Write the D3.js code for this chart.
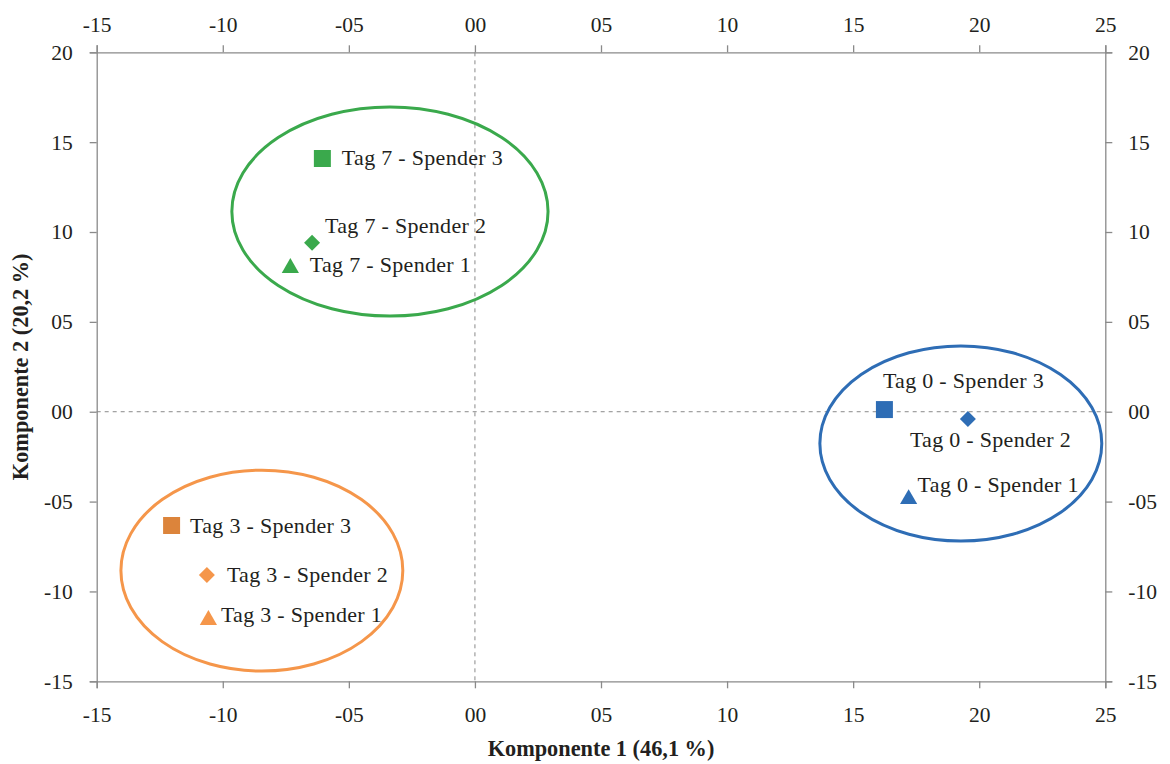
<!DOCTYPE html>
<html>
<head>
<meta charset="utf-8">
<script src="https://cdn.jsdelivr.net/npm/d3@7/dist/d3.min.js"></script>
<style>
  html, body { margin: 0; padding: 0; background: #fff; }
  svg text { font-family: "Liberation Serif", "DejaVu Serif", serif; fill: #231f20; }
</style>
</head>
<body>
<svg id="chart" width="1170" height="764"></svg>
<script>
// Principal component scores (component 1, component 2)
const samples = ["Tag 0 - Spender 3", "Tag 0 - Spender 2", "Tag 0 - Spender 1",
                 "Tag 7 - Spender 3", "Tag 7 - Spender 2", "Tag 7 - Spender 1",
                 "Tag 3 - Spender 3", "Tag 3 - Spender 2", "Tag 3 - Spender 1"];
const comp1 = [1.624, 1.955, 1.72, -0.605, -0.646, -0.732, -1.203, -1.063, -1.057];
const comp2 = [0.012, -0.041, -0.486, 1.409, 0.94, 0.80, -0.633, -0.909, -1.159];
const day   = ["Tag 0", "Tag 0", "Tag 0", "Tag 7", "Tag 7", "Tag 7", "Tag 3", "Tag 3", "Tag 3"];
const donor = [3, 2, 1, 3, 2, 1, 3, 2, 1];

// Group ellipses: centre and radii in component units
const groups   = ["Tag 0", "Tag 7", "Tag 3"];
const groupCx  = [1.927, -0.337, -0.845];
const groupCy  = [-0.177, 1.114, -0.884];
const groupRx  = [0.559, 0.627, 0.559];
const groupRy  = [0.543, 0.582, 0.559];

// Axis ticks
const xTicks = [-1.5, -1.0, -0.5, 0, 0.5, 1.0, 1.5, 2.0, 2.5];
const xTickLabels = ["-15", "-10", "-05", "00", "05", "10", "15", "20", "25"];
const yTicks = [-1.5, -1.0, -0.5, 0, 0.5, 1.0, 1.5, 2.0];
const yTickLabels = ["-15", "-10", "-05", "00", "05", "10", "15", "20"];

const xTitle = "Komponente 1 (46,1 %)";
const yTitle = "Komponente 2 (20,2 %)";

// ---- styling / layout ----
const groupColor = { "Tag 0": "#2e6db5", "Tag 7": "#3aa94c", "Tag 3": "#f5964a" };
const markerColor = (d) => (d.day === "Tag 3" && d.donor === 3) ? "#dc843b" : groupColor[d.day];
// label offsets (px) from the marker centre to the start of the text baseline
const labelOffset = [[-1.5, -22], [-58, 28], [9, -7],
                     [19.5, 6.5], [13, -10], [19.5, 4],
                     [18.5, 7.5], [20, 7], [12.5, 2]];

const svg = d3.select("#chart");
const plotLeft = 96.7, plotRight = 1105.3, plotTop = 52.3, plotBottom = 681.3;

const x = d3.scaleLinear().domain([-1.5, 2.5]).range([plotLeft, plotRight]);
const y = d3.scaleLinear().domain([-1.5, 2.0]).range([plotBottom, plotTop]);

const axisColor = "#8a8a8a";
const fmt = (ticks, labels) => (v) => labels[ticks.indexOf(v)];

function styleAxis(g) {
  g.selectAll("path.domain").attr("stroke", axisColor).attr("stroke-width", 1.3);
  g.selectAll(".tick line").attr("stroke", axisColor).attr("stroke-width", 1.3);
  g.selectAll(".tick text")
    .attr("font-family", '"Liberation Serif", "DejaVu Serif", serif')
    .attr("font-size", 21.5).attr("fill", "#231f20");
}

svg.append("g").attr("transform", `translate(0,${plotBottom})`)
  .call(d3.axisBottom(x).tickValues(xTicks).tickFormat(fmt(xTicks, xTickLabels)).tickSizeOuter(0).tickSize(7).tickPadding(18))
  .call(styleAxis);
svg.append("g").attr("transform", `translate(0,${plotTop})`)
  .call(d3.axisTop(x).tickValues(xTicks).tickFormat(fmt(xTicks, xTickLabels)).tickSizeOuter(0).tickSize(7).tickPadding(13))
  .call(styleAxis);
svg.append("g").attr("transform", `translate(${plotLeft},0)`)
  .call(d3.axisLeft(y).tickValues(yTicks).tickFormat(fmt(yTicks, yTickLabels)).tickSizeOuter(0).tickSize(7).tickPadding(17))
  .call(styleAxis);
svg.append("g").attr("transform", `translate(${plotRight},0)`)
  .call(d3.axisRight(y).tickValues(yTicks).tickFormat(fmt(yTicks, yTickLabels)).tickSizeOuter(0).tickSize(7).tickPadding(16))
  .call(styleAxis);

// zero reference lines
svg.append("line")
  .attr("x1", x(0)).attr("x2", x(0)).attr("y1", plotTop).attr("y2", plotBottom)
  .attr("stroke", "#8a8a8a").attr("stroke-width", 1).attr("stroke-dasharray", "4,4");
svg.append("line")
  .attr("x1", plotLeft).attr("x2", plotRight).attr("y1", y(0)).attr("y2", y(0))
  .attr("stroke", "#8a8a8a").attr("stroke-width", 1).attr("stroke-dasharray", "4,4");

// group ellipses
const ellipses = groups.map((g, i) => ({ g, cx: groupCx[i], cy: groupCy[i], rx: groupRx[i], ry: groupRy[i] }));
svg.append("g").selectAll("ellipse").data(ellipses).join("ellipse")
  .attr("cx", d => x(d.cx)).attr("cy", d => y(d.cy))
  .attr("rx", d => x(d.cx + d.rx) - x(d.cx))
  .attr("ry", d => y(d.cy) - y(d.cy + d.ry))
  .attr("fill", "none").attr("stroke", d => groupColor[d.g]).attr("stroke-width", 3);

// markers
const points = samples.map((s, i) => ({ s, x: comp1[i], y: comp2[i], day: day[i], donor: donor[i], off: labelOffset[i] }));
const shapeFor = { 3: d3.symbol(d3.symbolSquare, 289), 2: d3.symbol(d3.symbolSquare, 128), 1: d3.symbol(d3.symbolTriangle, 128) };
svg.append("g").selectAll("path").data(points).join("path")
  .attr("d", d => shapeFor[d.donor]())
  .attr("transform", d => `translate(${x(d.x)},${y(d.y)})` + (d.donor === 2 ? " rotate(45)" : ""))
  .attr("fill", markerColor);

// point labels
svg.append("g").selectAll("text").data(points).join("text")
  .attr("x", d => x(d.x) + d.off[0]).attr("y", d => y(d.y) + d.off[1])
  .attr("font-size", 22).attr("letter-spacing", 0.3)
  .text(d => d.s);

// axis titles
svg.append("text")
  .attr("x", (plotLeft + plotRight) / 2).attr("y", 756)
  .attr("text-anchor", "middle").attr("font-weight", "bold").attr("font-size", 22.3)
  .text(xTitle);
svg.append("text")
  .attr("transform", `translate(28,${(plotTop + plotBottom) / 2}) rotate(-90)`)
  .attr("text-anchor", "middle").attr("font-weight", "bold").attr("font-size", 22.3)
  .text(yTitle);
</script>
</body>
</html>
